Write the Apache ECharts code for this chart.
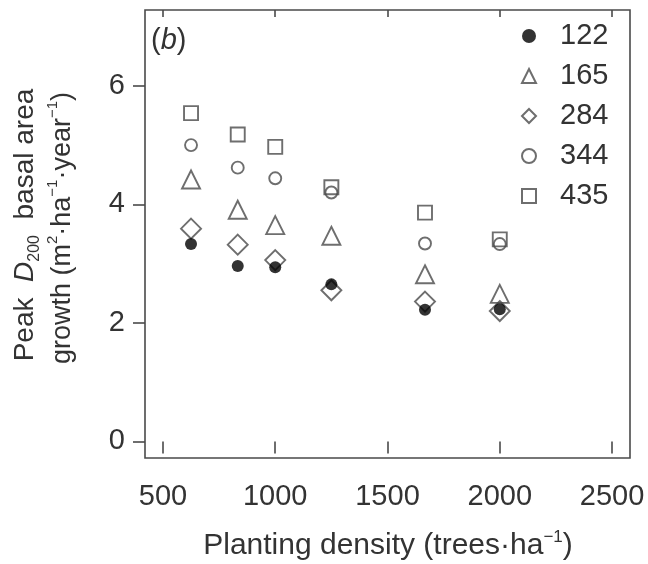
<!DOCTYPE html>
<html>
<head>
<meta charset="utf-8">
<script src="https://cdn.jsdelivr.net/npm/echarts@6/dist/echarts.min.js"></script>
<style>
  html, body { margin: 0; padding: 0; background: #fff; }
  #chart { width: 648px; height: 564px; }
</style>
</head>
<body>
<div id="chart"></div>
<script>
// Planting density (trees per hectare) of each spacing trial
const density = [625, 833, 1000, 1250, 1667, 2000];

// Peak D200 basal area growth (m2 ha-1 year-1) for each site index group
const g122 = [3.33, 2.96, 2.94, 2.65, 2.22, 2.23];
const g165 = [4.42, 3.91, 3.65, 3.47, 2.82, 2.49];
const g284 = [3.59, 3.32, 3.06, 2.55, 2.36, 2.20];
const g344 = [5.00, 4.62, 4.44, 4.20, 3.34, 3.33];
const g435 = [5.54, 5.18, 4.97, 4.29, 3.86, 3.41];

const groupNames = ['122', '165', '284', '344', '435'];
const xTicks = [500, 1000, 1500, 2000, 2500];
const yTicks = [0, 2, 4, 6];

const FONT = 'Liberation Sans, Arial, sans-serif';
const INK = '#333';
const LINE = '#4a4a4a';

const pairs = vals => density.map((d, i) => [d, vals[i]]);

function hollow(name, vals, symbol, size, z) {
  return {
    name, type: 'scatter', data: pairs(vals), symbol, symbolSize: size, z,
    itemStyle: { color: 'rgba(255,255,255,0)', borderColor: LINE, borderWidth: 1.9 },
    emphasis: { disabled: true }
  };
}

const chart = echarts.init(document.getElementById('chart'), null, { renderer: 'canvas' });

chart.setOption({
  animation: false,
  backgroundColor: '#fff',
  grid: {
    left: 145, right: 18, top: 10, bottom: 106,
    show: true, borderColor: LINE, borderWidth: 1.6, backgroundColor: 'transparent'
  },
  xAxis: [
    {
      type: 'value', min: 420, max: 2580, position: 'bottom',
      axisLine: { show: false }, splitLine: { show: false },
      axisTick: { show: true, length: 12, lineStyle: { color: LINE, width: 1.6 }, customValues: xTicks },
      axisLabel: {
        fontFamily: FONT, fontSize: 29, color: INK, margin: 24, customValues: xTicks,
        formatter: v => String(v)
      }
    },
    {
      type: 'value', min: 420, max: 2580, position: 'top',
      axisLine: { show: false }, splitLine: { show: false },
      axisTick: { show: true, inside: true, length: 7, lineStyle: { color: LINE, width: 1.6 }, customValues: xTicks },
      axisLabel: { show: false }
    }
  ],
  yAxis: {
    type: 'value', min: -0.28, max: 7.28,
    axisLine: { show: false }, splitLine: { show: false },
    axisTick: { show: true, length: 12, lineStyle: { color: LINE, width: 1.6 }, customValues: yTicks },
    axisLabel: { fontFamily: FONT, fontSize: 29, color: INK, margin: 20, customValues: yTicks }
  },
  legend: {
    orient: 'vertical', left: 521, top: 21, padding: 0,
    itemWidth: 14, itemHeight: 14, itemGap: 10,
    selectedMode: false,
    textStyle: { fontFamily: FONT, fontSize: 29, color: INK, lineHeight: 30, padding: [0, 0, 0, 19] },
    data: [
      { name: '122', icon: 'circle' },
      { name: '165', icon: 'triangle' },
      { name: '284', icon: 'diamond' },
      { name: '344', icon: 'circle' },
      { name: '435', icon: 'rect' }
    ]
  },
  series: [
    {
      name: groupNames[0], type: 'scatter', data: pairs(g122), symbol: 'circle', symbolSize: 12, z: 5,
      itemStyle: { color: '#000', borderColor: '#000', borderWidth: 0 },
      emphasis: { disabled: true }
    },
    hollow(groupNames[1], g165, 'triangle', 18, 3),
    hollow(groupNames[2], g284, 'diamond', 20, 3),
    hollow(groupNames[3], g344, 'circle', 12, 3),
    hollow(groupNames[4], g435, 'rect', 14, 3)
  ],
  graphic: [
    {
      type: 'text', left: 151, top: 26, z: 10,
      style: {
        text: '({b|b})', fontFamily: FONT, fontSize: 29, fill: INK,
        rich: { b: { fontFamily: FONT, fontSize: 29, fontStyle: 'italic', fill: INK } }
      }
    },
    {
      type: 'text', x: 388, y: 546, z: 10,
      style: {
        text: 'Planting density (trees·ha{sup|−1})',
        fontFamily: FONT, fontSize: 30, fill: INK, align: 'center', verticalAlign: 'middle',
        rich: { sup: { fontFamily: FONT, fontSize: 17, fill: INK, verticalAlign: 'top', lineHeight: 34 } }
      }
    },
    {
      type: 'text', x: 25, y: 225, rotation: Math.PI / 2, z: 10,
      style: {
        text: 'Peak  {it|D}{sub|200}  basal area',
        fontFamily: FONT, fontSize: 28, fill: INK, align: 'center', verticalAlign: 'middle',
        rich: {
          it: { fontFamily: FONT, fontSize: 28, fontStyle: 'italic', fill: INK },
          sub: { fontFamily: FONT, fontSize: 16, fill: INK, verticalAlign: 'bottom', lineHeight: 36 }
        }
      }
    },
    {
      type: 'text', x: 63, y: 228, rotation: Math.PI / 2, z: 10,
      style: {
        text: 'growth (m{sup|2}·ha{sup|−1}·year{sup|−1})',
        fontFamily: FONT, fontSize: 27, fill: INK, align: 'center', verticalAlign: 'middle',
        rich: { sup: { fontFamily: FONT, fontSize: 15, fill: INK, verticalAlign: 'top', lineHeight: 36 } }
      }
    }
  ]
});
</script>
</body>
</html>
